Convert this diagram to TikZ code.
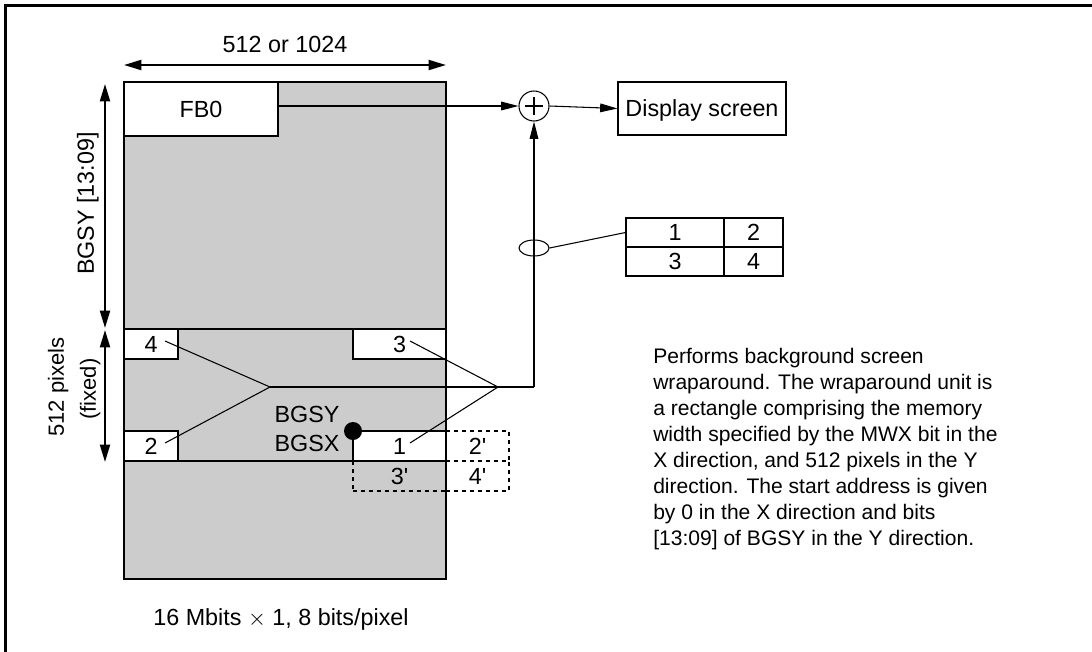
\documentclass[tikz,border=0pt]{standalone}
\usepackage{fontspec}
\setmainfont{Liberation Sans}
\usetikzlibrary{arrows.meta,shapes.geometric}
\definecolor{bggray}{gray}{0.8}
\begin{document}
\begin{tikzpicture}[x=0.75pt,y=-0.75pt,
  lbl/.style={font=\fontsize{17.5}{21}\selectfont, inner sep=0pt, text depth=0pt},
  smalllbl/.style={font=\fontsize{16.5}{20}\selectfont, inner sep=0pt, text depth=0pt},
  wbox/.style 2 args={draw, fill=white, line width=0.8pt, inner sep=0pt, text depth=0pt,
     font=\fontsize{17.5}{21}\selectfont, minimum width=#1*0.75pt, minimum height=#2*0.75pt},
  cell/.style 2 args={draw, line width=0.8pt, inner sep=0pt, text depth=0pt,
     font=\fontsize{17.5}{21}\selectfont, minimum width=#1*0.75pt, minimum height=#2*0.75pt},
  dbox/.style 2 args={draw, dashed, line width=0.8pt, inner sep=0pt, text depth=0pt,
     font=\fontsize{17.5}{21}\selectfont, minimum width=#1*0.75pt, minimum height=#2*0.75pt},
  dim/.style={line width=1.5pt, {Triangle[length=13pt,width=7.5pt]}-{Triangle[length=13pt,width=7.5pt]}},
  conn/.style={line width=0.8pt, -{Triangle[length=13pt,width=6.5pt]}},
  thin/.style={line width=0.8pt}]
\useasboundingbox (0,0) rectangle (1092,651);
% outer frame
\draw[line width=2.25pt] (5,660) -- (5,5.5) -- (1100,5.5);

% gray memory area
\fill[bggray] (124,82) rectangle (446,579);

% dashed wrap boxes
\node[dbox={63}{30}] (b2p) at (477.5,446) {2\textquotesingle};
\node[dbox={93}{30}] (b3p) at (399.5,476) {3\textquotesingle};
\node[dbox={63}{30}] (b4p) at (477.5,476) {4\textquotesingle};

\draw[line width=1pt] (124,82) rectangle (446,579);
\draw[thin] (124,329) -- (446,329);
\draw[thin] (124,461) -- (446,461);

% boxes
\node[wbox={154}{54}] (fb0) at (201,109) {FB0};
\node[wbox={54}{30}] (b4) at (151,344) {4};
\node[wbox={54}{30}] (b2) at (151,446) {2};
\node[wbox={93}{30}] (b3) at (399.5,344) {3};
\node[wbox={93}{30}] (b1) at (399.5,446) {1};

% start point
\fill (353,431) circle (6.75pt);
\node[lbl] (bgsy) at (307,414) {BGSY};
\node[lbl] (bgsx) at (307,443) {BGSX};

% dimension arrows
\coordinate (dl) at (124,65);
\coordinate (dr) at (446,65);
\draw[dim] (dl) -- (dr);
\node[lbl] (wlab) at (285,44) {512 or 1024};

\coordinate (v1t) at (105,84);
\coordinate (v1b) at (105,328);
\coordinate (v2t) at (105,330);
\coordinate (v2b) at (105,462);
\draw[dim] (v1t) -- (v1b);
\draw[dim] (v2t) -- (v2b);
\node[lbl, rotate=90] (ylab) at (85.5,203.5) {BGSY [13:09]};
\node[smalllbl, rotate=90] (pix) at (56,387) {512 pixels};
\node[smalllbl, rotate=90] (fix) at (88,389) {(fixed)};

% adder and display
\node[draw, circle, line width=0.8pt, minimum size=30*0.75pt, inner sep=0pt] (plus) at (534,106) {};
\draw[line width=1.6pt] ([xshift=-6.4pt]plus.center) -- ([xshift=6.4pt]plus.center);
\draw[line width=1.6pt] ([yshift=-6.4pt]plus.center) -- ([yshift=6.4pt]plus.center);
\node[wbox={168}{53}] (disp) at (702,108.5) {Display screen};

\draw[conn] (fb0.east |- plus.west) -- (plus.west);
\draw[conn] (plus.east) -- (disp.west);

% mixing lines
\coordinate (t4) at (165,341);
\coordinate (t2) at (165,443);
\coordinate (t3) at (410,341);
\coordinate (t1) at (410,443);
\coordinate (jl) at (270,387);
\coordinate (jr) at (498,387);
\coordinate (jt) at (534,387);
\draw[thin] (t4) -- (jl) -- (t2);
\draw[thin] (t3) -- (jr) -- (t1);
\draw[thin] (jl) -- (jt);
\draw[conn] (jt) -- (plus.south);

% ellipse and table
\node[draw, ellipse, line width=0.8pt, minimum width=30*0.75pt, minimum height=16*0.75pt, inner sep=0pt] (ell) at (534,248) {};
\node[cell={98}{29}] (c1) at (675,232.5) {1};
\node[cell={59}{29}] (c2) at (753.5,232.5) {2};
\node[cell={98}{29}] (c3) at (675,261.5) {3};
\node[cell={59}{29}] (c4) at (753.5,261.5) {4};
\draw[thin] (ell.east) -- (c1.west);

% description
\node[anchor=north west, align=left, inner sep=0pt, font=\fontsize{15.8}{19.5}\selectfont] (desc) at (653,348)
 {Performs background screen\\
  wraparound. The wraparound unit is\\
  a rectangle comprising the memory\\
  width specified by the MWX bit in the\\
  X direction, and 512 pixels in the Y\\
  direction. The start address is given\\
  by 0 in the X direction and bits\\
  {}[13:09] of BGSY in the Y direction.};

\node[lbl] (cap) at (281,617) {16 Mbits $\times$ 1, 8 bits/pixel};
\end{tikzpicture}
\end{document}
